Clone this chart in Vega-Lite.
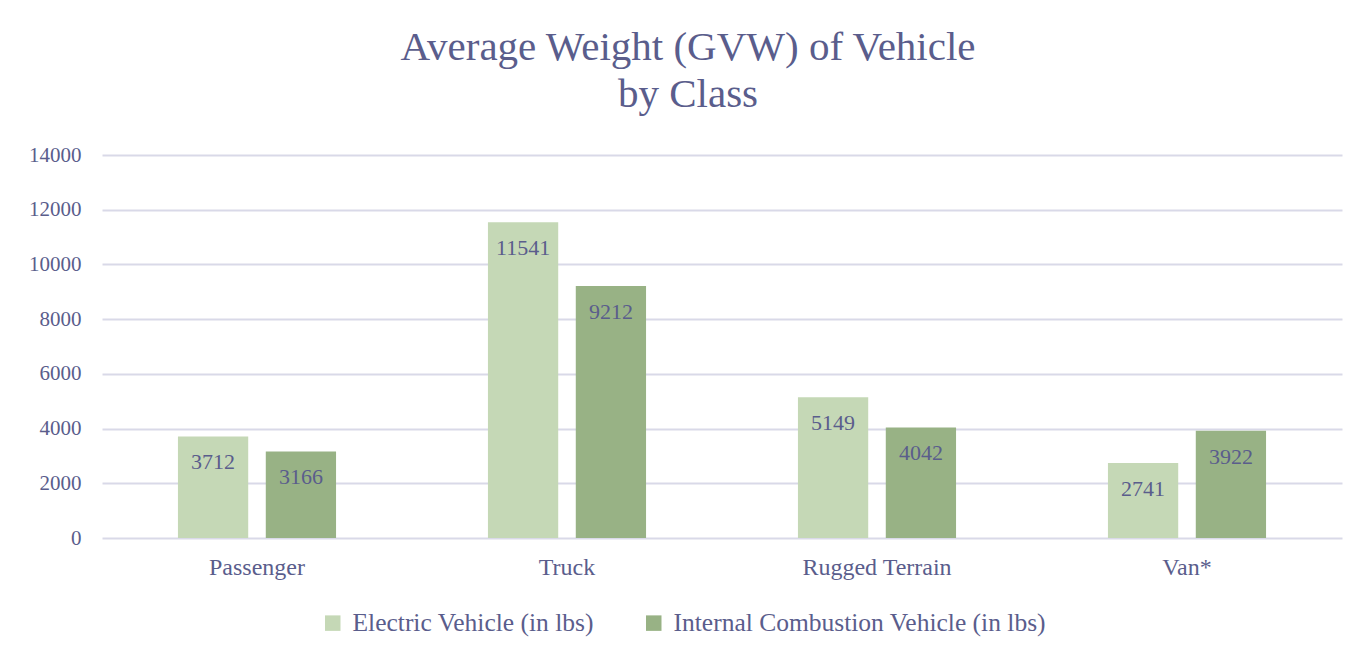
{
  "$schema": "https://vega.github.io/schema/vega-lite/v6.json",
  "width": 1240,
  "height": 383,
  "autosize": {"type": "none"},
  "padding": {"left": 102, "top": 155, "right": 30, "bottom": 121},
  "background": "white",
  "config": {"view": {"stroke": null}},
  "title": {
    "text": ["Average Weight (GVW) of Vehicle", "by Class"],
    "font": "Liberation Serif",
    "fontSize": 41,
    "fontWeight": "normal",
    "color": "#5a5d8c",
    "anchor": "middle",
    "dx": -34,
    "offset": 28,
    "lineHeight": 47
  },
  "data": {
    "values": [
      {"cls": "Passenger", "type": "Electric Vehicle (in lbs)", "w": 3712},
      {"cls": "Passenger", "type": "Internal Combustion Vehicle (in lbs)", "w": 3166},
      {"cls": "Truck", "type": "Electric Vehicle (in lbs)", "w": 11541},
      {"cls": "Truck", "type": "Internal Combustion Vehicle (in lbs)", "w": 9212},
      {"cls": "Rugged Terrain", "type": "Electric Vehicle (in lbs)", "w": 5149},
      {"cls": "Rugged Terrain", "type": "Internal Combustion Vehicle (in lbs)", "w": 4042},
      {"cls": "Van*", "type": "Electric Vehicle (in lbs)", "w": 2741},
      {"cls": "Van*", "type": "Internal Combustion Vehicle (in lbs)", "w": 3922}
    ]
  },
  "encoding": {
    "x": {
      "field": "cls", "type": "nominal", "sort": null,
      "scale": {"paddingInner": 0.49, "paddingOuter": 0.245},
      "axis": {"title": null, "labelAngle": 0, "ticks": false, "domain": false,
               "labelFont": "Liberation Serif", "labelFontSize": 24, "labelColor": "#5a5d8c", "labelPadding": 17}
    },
    "xOffset": {"field": "type", "type": "nominal", "scale": {"paddingInner": 0.2, "paddingOuter": 0}},
    "y": {
      "field": "w", "type": "quantitative",
      "scale": {"domain": [0, 14000]},
      "axis": {"title": null, "values": [0, 2000, 4000, 6000, 8000, 10000, 12000, 14000],
               "format": "d", "ticks": false, "domain": false, "grid": true, "labelOverlap": false,
               "gridColor": "#d9d9e8", "gridWidth": 2,
               "labelFont": "Liberation Serif", "labelFontSize": 21, "labelColor": "#5a5d8c", "labelPadding": 21}
    }
  },
  "layer": [
    {
      "mark": {"type": "bar"},
      "encoding": {
        "color": {
          "field": "type", "type": "nominal",
          "scale": {"range": ["#c5d8b6", "#98b285"]},
          "legend": {
            "title": null, "orient": "none", "direction": "horizontal",
            "legendX": 218, "legendY": 455,
            "symbolType": "square", "symbolSize": 240, "symbolStrokeWidth": 0,
            "labelFont": "Liberation Serif", "labelFontSize": 25.5, "labelColor": "#5a5d8c",
            "labelOffset": 7, "columnPadding": 47, "labelLimit": 0
          }
        }
      }
    },
    {
      "mark": {"type": "text", "baseline": "middle", "dy": 26, "font": "Liberation Serif", "fontSize": 22, "color": "#5a5d8c"},
      "encoding": {"text": {"field": "w", "type": "quantitative", "format": "d"}}
    }
  ]
}
